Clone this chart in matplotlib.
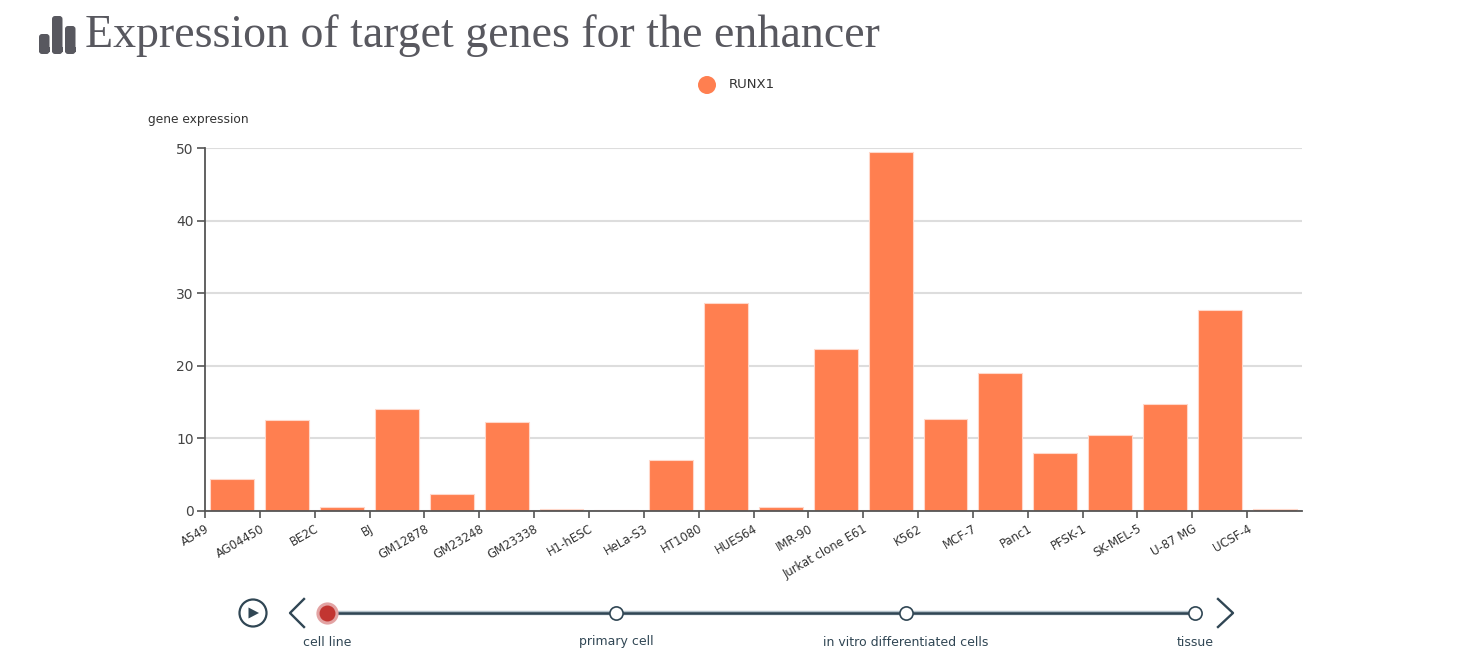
#!/usr/bin/env python3

import matplotlib
matplotlib.use("Agg")
import matplotlib.pyplot as plt
from matplotlib.patches import Circle, FancyBboxPatch, Polygon

W, H = 1480, 672

cell_lines = ["A549", "AG04450", "BE2C", "BJ", "GM12878", "GM23248", "GM23338",
              "H1-hESC", "HeLa-S3", "HT1080", "HUES64", "IMR-90", "Jurkat clone E61",
              "K562", "MCF-7", "Panc1", "PFSK-1", "SK-MEL-5", "U-87 MG", "UCSF-4"]
runx1 = [4.4, 12.5, 0.5, 14.0, 2.4, 12.3, 0.3, 0.2, 7.0, 28.6, 0.5, 22.3, 49.4,
         12.7, 19.0, 8.0, 10.4, 14.8, 27.7, 0.3]
y_ticks = [0, 10, 20, 30, 40, 50]
timeline_labels = ["cell line", "primary cell", "in vitro differentiated cells", "tissue"]

ORANGE = "#ff7f50"
DARK = "#304654"
GREY = "#58585f"


def px_axes(fig, left, top, right, bottom):
    # axes placed by pixel box, y counted from the top of the image
    return fig.add_axes([left / W, 1 - bottom / H, (right - left) / W, (bottom - top) / H])


fig = plt.figure(figsize=(W / 100, H / 100), dpi=100, facecolor="white")

# main bar chart
ax = px_axes(fig, 205, 148, 1302, 511)
positions = range(len(cell_lines))
ax.bar(positions, runx1, width=0.8, color=ORANGE, edgecolor="#ffd8ca", linewidth=0.8, zorder=3)
ax.set_xlim(-0.5, len(cell_lines) - 0.5)
ax.set_ylim(0, 50)
ax.set_yticks(y_ticks)
ax.yaxis.grid(True, color="#dddddd", linewidth=1.5, zorder=0)
ax.set_axisbelow(True)
for side in ["top", "right"]:
    ax.spines[side].set_visible(False)
for side in ["left", "bottom"]:
    ax.spines[side].set_color("#555555")
    ax.spines[side].set_linewidth(1.3)
    ax.spines[side].set_zorder(5)
ax.tick_params(axis="y", length=6, width=1.2, color="#555555", labelcolor="#444444",
               labelsize=10, pad=2)

# ticks sit on the band edges, labels hang under them
ax.set_xticks([p - 0.5 for p in positions])
ax.set_xticklabels(cell_lines, rotation=30, ha="right", rotation_mode="anchor",
                   fontsize=8.4, color="#333333")
ax.tick_params(axis="x", length=5, width=1.2, color="#555555", pad=3)
for lbl, offset in zip(ax.get_xticklabels(), positions):
    lbl.set_x(offset + 0.18)

# overlay in image pixels for title, legend and player controls
ov = fig.add_axes([0, 0, 1, 1], zorder=10)
ov.set_xlim(0, W)
ov.set_ylim(H, 0)
ov.axis("off")
ov.patch.set_alpha(0)

ov.text(85, 36, "Expression of target genes for the enhancer", family="Liberation Serif",
        fontsize=33, color=GREY, va="center", ha="left")
for x0, top in [(39, 34), (52, 16), (65, 26)]:
    ov.add_patch(FancyBboxPatch((x0 + 2, top + 2), 6.5, 52 - top - 2,
                                boxstyle="round,pad=2,rounding_size=3", mutation_aspect=1,
                                color=GREY, linewidth=0))
    ov.add_patch(plt.Rectangle((x0, 47), 10.5, 5, color=GREY, linewidth=0))

ov.add_patch(Circle((707, 85), 9, color=ORANGE, linewidth=0))
ov.text(729, 84, "RUNX1", fontsize=9.5, color="#333333", va="center", ha="left")
ov.text(148, 120, "gene expression", fontsize=8.8, color="#333333", va="center", ha="left")

# play button and arrows
ov.add_patch(Circle((253, 613), 13.5, facecolor="white", edgecolor=DARK, linewidth=1.6))
ov.add_patch(Polygon([(248.5, 607.5), (248.5, 618.5), (259, 613)], color=DARK, linewidth=0))
ov.plot([304, 290, 304], [599, 613, 627], color=DARK, linewidth=1.7)
ov.plot([1218, 1233, 1218], [599, 613, 627], color=DARK, linewidth=1.7)

# timeline, stops placed by index
tl = px_axes(fig, 327, 600, 1195, 626)
tl.set_zorder(11)
tl.set_xlim(0, len(timeline_labels) - 1)
tl.set_ylim(-1, 1)
tl.axis("off")
tl.patch.set_alpha(0)
stops = list(range(len(timeline_labels)))
tl.plot(stops, [0] * len(stops), color="#b5c2ca", linewidth=3.2, zorder=1, clip_on=False)
tl.plot(stops, [0] * len(stops), color=DARK, linewidth=1.8, zorder=2, clip_on=False)
tl.plot(stops[1:], [0] * 3, "o", ms=9.5, mfc="white", mec=DARK, mew=1.2, zorder=3, clip_on=False)
tl.plot(stops[0], 0, "o", ms=16, color="#e3a3a3", mew=0, zorder=3, clip_on=False)
tl.plot(stops[0], 0, "o", ms=11.5, color="#c23531", mew=0, zorder=4, clip_on=False)
for s, name in zip(stops, timeline_labels):
    tl.annotate(name, (s, 0), xytext=(0, -29), textcoords="offset pixels", ha="center", va="center",
                fontsize=9, color=DARK, annotation_clip=False)

plt.savefig("out.png", dpi=100)
